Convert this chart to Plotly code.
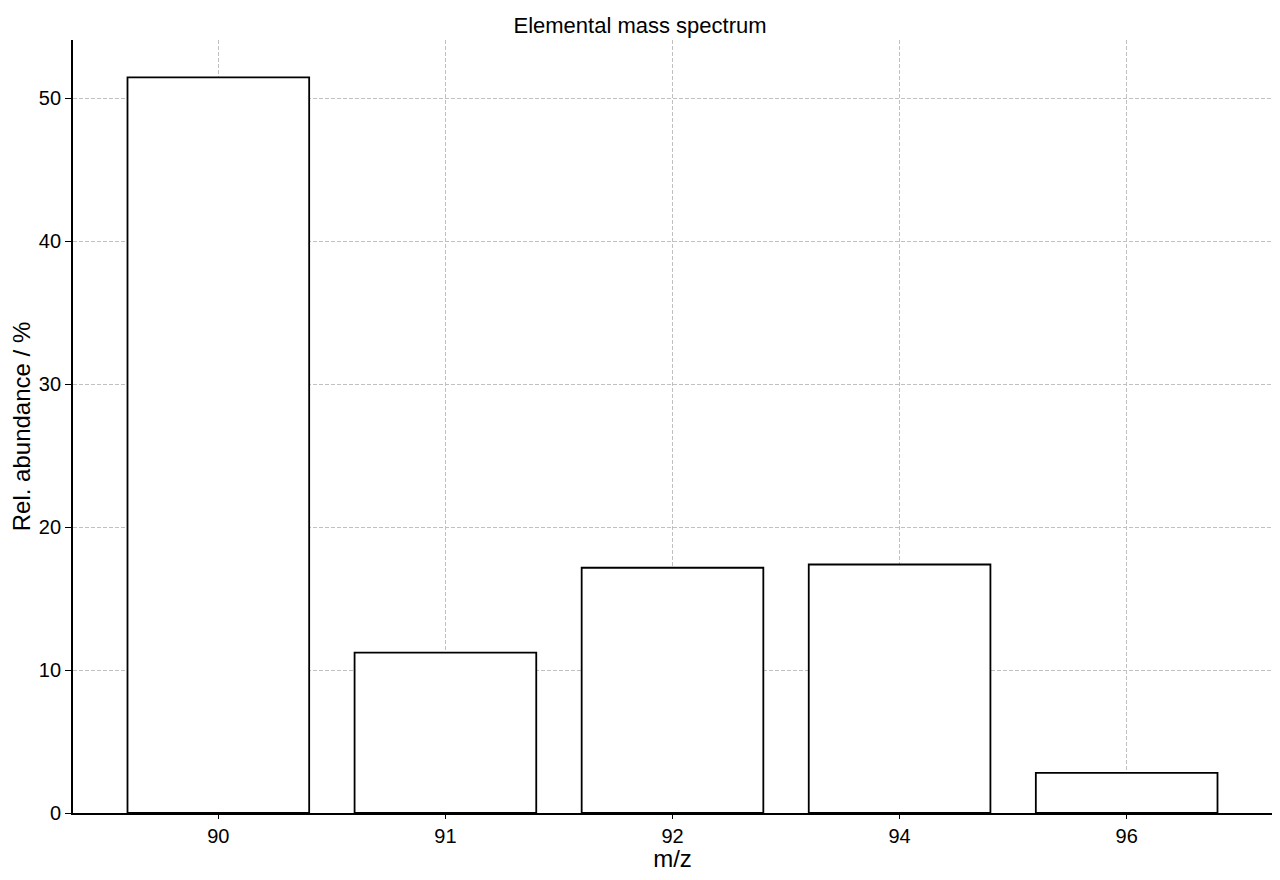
import plotly.graph_objects as go

mass = ["90", "91", "92", "94", "96"]
abundance = [51.45, 11.22, 17.15, 17.38, 2.80]

fig = go.Figure()
fig.add_trace(go.Bar(
    x=mass,
    y=abundance,
    width=0.8,
    marker=dict(color="white", line=dict(color="black", width=1.8)),
))

fig.update_layout(
    width=1264, height=864,
    title=dict(text="Elemental mass spectrum", x=0.5, xanchor="center", y=0.98, yanchor="middle",
               font=dict(size=22, color="black")),
    font=dict(family="Liberation Sans, Arial, sans-serif", size=20, color="black"),
    plot_bgcolor="white", paper_bgcolor="white",
    margin=dict(l=65, r=0, t=32, b=59),
    showlegend=False,
    xaxis=dict(title=dict(text="m/z", standoff=6), showline=True, linecolor="black", linewidth=1.8,
               showgrid=True, gridcolor="#c0c0c0", griddash="4px,2px", gridwidth=1,
               ticks="outside", ticklen=4, tickcolor="black", range=[-0.64, 4.64]),
    yaxis=dict(title=dict(text="Rel. abundance / %", standoff=6), showline=True, linecolor="black", linewidth=1.8,
               showgrid=True, gridcolor="#c0c0c0", griddash="4px,2px", gridwidth=1,
               ticks="outside", ticklen=6, tickcolor="black", range=[0, 54.06],
               dtick=10, zeroline=False),
)

fig.write_html("out.html")
